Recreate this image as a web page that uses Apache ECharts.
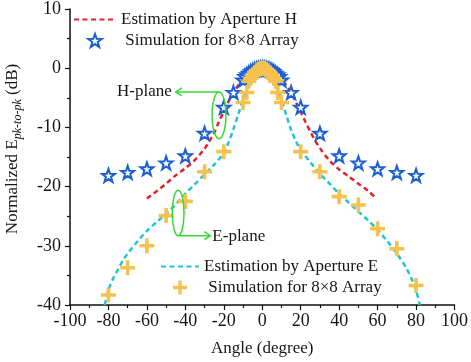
<!DOCTYPE html>
<html><head><meta charset="utf-8">
<script src="https://cdn.jsdelivr.net/npm/echarts@6/dist/echarts.min.js"></script>
<style>html,body{margin:0;padding:0;background:#fff}#c{width:471px;height:362px}</style>
</head><body><div id="c"></div>
<script>
// ---- data ----
const estHAngle = [-60,-55,-50,-45,-40,-35,-30,-27.5,-25,-22.5,-20,-17.5,-15,-12.5,-10,-7.5,-5,-2.5,0,2.5,5,7.5,10,12.5,15,17.5,20,22.5,25,27.5,30,35,40,45,50,55,59];
const estHValue = [-22.0,-20.8,-19.5,-18.1,-16.9,-15.5,-13.6,-12.3,-10.9,-9.0,-7.3,-5.6,-4.1,-2.9,-1.9,-1.1,-0.5,-0.12,0,-0.12,-0.5,-1.1,-1.9,-2.9,-4.2,-5.7,-7.4,-9.1,-10.7,-12.2,-13.5,-15.6,-17.1,-18.3,-19.5,-20.7,-21.9];

const simHAngle = [-80,-70,-60,-50,-40,-30,-20,-15,-10,-9,-8,-7,-6,-5,-4,-3,-2,-1,0,1,2,3,4,5,6,7,8,9,10,15,20,30,40,50,60,70,80];
const simHValue = [-18.1,-17.6,-17.0,-16.0,-14.8,-11.0,-6.6,-4.1,-2.0,-1.4,-1.1,-0.85,-0.6,-0.42,-0.27,-0.15,-0.07,-0.02,0,-0.02,-0.07,-0.15,-0.27,-0.42,-0.6,-0.85,-1.1,-1.4,-2.0,-4.1,-6.6,-11.0,-14.8,-16.0,-17.0,-17.6,-18.1];

const estEAngle = [-82,-81,-79.5,-77.5,-75,-72.5,-70,-65,-60,-55,-50,-45,-40,-35,-30,-25,-20,-17.5,-15,-12.5,-10,-8,-6,-4,-2,0,2,4,6,8,10,12.5,15,17.5,20,25,30,35,40,45,50,55,60,65,70,75,78,80,82];
const estEValue = [-40,-38.8,-37.0,-35.5,-34.0,-32.5,-31.3,-29.3,-27.5,-26.0,-24.6,-23.0,-21.2,-19.6,-17.9,-16.3,-14.3,-12.5,-10.3,-7.8,-5.3,-3.3,-1.9,-0.9,-0.25,0,-0.25,-0.9,-1.9,-3.3,-5.3,-7.9,-10.4,-12.3,-13.8,-15.9,-17.8,-19.5,-21.2,-22.7,-24.2,-25.7,-27.3,-29.2,-31.3,-33.8,-35.8,-37.5,-40];

const simEAngle = [-80,-70,-60,-50,-40,-30,-20,-10,-8,-7,-6,-5,-4,-3,-2,-1,0,1,2,3,4,5,6,7,8,10,20,30,40,50,60,70,80];
const simEValue = [-38.3,-33.7,-30.0,-24.9,-22.5,-17.5,-14.1,-5.8,-4.1,-2.2,-1.7,-1.2,-0.75,-0.45,-0.2,-0.05,0,-0.05,-0.2,-0.45,-0.75,-1.2,-1.7,-2.2,-4.1,-5.8,-14.1,-17.5,-21.7,-23.1,-27.1,-30.5,-36.7];

const seriesNames = ['Estimation by Aperture H', 'SimH', 'Estimation by Aperture E', 'SimE'];
const legendLabels = {'SimH': ' Simulation for 8\u00d78 Array', 'SimE': ' Simulation for 8\u00d78 Array'};
const annotationLabels = ['H-plane', 'E-plane'];
const yNameParts = ['Normalized E', 'pk-to-pk', ' (dB)'];
const xName = 'Angle (degree)';

// ---- styling ----
const FONT = '"Liberation Serif", "Times New Roman", serif';
const TXT = '#161616';
const zip = (a, b) => a.map((v, i) => [v, b[i]]);
const STAR = 'path://M0,-10L2.351,-3.236L9.511,-3.09L3.804,1.236L5.878,8.09L0,4L-5.878,8.09L-3.804,1.236L-9.511,-3.09L-2.351,-3.236Z';
const PLUS = 'path://M3.8,0H6.2V3.8H10V6.2H6.2V10H3.8V6.2H0V3.8H3.8Z';
const GREEN = '#35dc35';
const DASH = [5, 3.5];
const HIDE_SYMBOL = {color: 'rgba(0,0,0,0)', borderColor: 'rgba(0,0,0,0)', borderWidth: 0};

const chart = echarts.init(document.getElementById('c'), null, {renderer: 'canvas'});
const legendText = {fontFamily: FONT, fontSize: 17, color: TXT, lineHeight: 17};
chart.setOption({
  animation: false,
  backgroundColor: '#fff',
  grid: {left: 70, right: 14, top: 9, bottom: 57, containLabel: false},
  legend: [
    {left: 73, top: 11, padding: 0, orient: 'vertical', itemGap: 4, itemWidth: 42, itemHeight: 13,
     selectedMode: false, textStyle: legendText, formatter: n => legendLabels[n] || n,
     data: [{name: seriesNames[0], itemStyle: HIDE_SYMBOL}, seriesNames[1]]},
    {left: 160, top: 258, padding: 0, orient: 'vertical', itemGap: 4, itemWidth: 38, itemHeight: 14,
     selectedMode: false, textStyle: legendText, formatter: n => legendLabels[n] || n,
     data: [{name: seriesNames[2], itemStyle: HIDE_SYMBOL}, seriesNames[3]]}
  ],
  xAxis: {
    type: 'value', min: -100, max: 100, interval: 20,
    name: xName, nameLocation: 'middle', nameGap: 35,
    nameTextStyle: {fontFamily: FONT, fontSize: 17, color: TXT},
    axisLine: {show: true, onZero: false, lineStyle: {color: '#111', width: 1.5}},
    axisTick: {length: 5, lineStyle: {color: '#111', width: 1.2}},
    minorTick: {show: true, splitNumber: 2, length: 3, lineStyle: {color: '#111', width: 1.2}},
    splitLine: {show: false},
    axisLabel: {fontFamily: FONT, fontSize: 18, color: TXT, margin: 7}
  },
  yAxis: {
    type: 'value', min: -40, max: 10, interval: 10, position: 'left',
    axisLine: {show: true, onZero: false, lineStyle: {color: '#111', width: 1.5}},
    axisTick: {show: true, length: 5, lineStyle: {color: '#111', width: 1.2}},
    minorTick: {show: true, splitNumber: 2, length: 3, lineStyle: {color: '#111', width: 1.2}},
    splitLine: {show: false},
    axisLabel: {fontFamily: FONT, fontSize: 18, color: TXT, margin: 9}
  },
  series: [
    {name: seriesNames[0], type: 'line', data: zip(estHAngle, estHValue), symbol: 'none', smooth: 0.3,
     lineStyle: {color: '#e3212a', width: 2.5, type: DASH}, itemStyle: {color: '#e3212a'}, z: 2},
    {name: seriesNames[2], type: 'line', data: zip(estEAngle, estEValue), symbol: 'none', smooth: 0.3,
     lineStyle: {color: '#1fc6cf', width: 2.5, type: DASH}, itemStyle: {color: '#1fc6cf'}, z: 2},
    {name: seriesNames[1], type: 'scatter', data: zip(simHAngle, simHValue), symbol: STAR, symbolSize: 13,
     itemStyle: {color: '#ffffff', borderColor: '#1b5fd5', borderWidth: 2, opacity: 1}, z: 3},
    {name: seriesNames[3], type: 'scatter', data: zip(simEAngle, simEValue), symbol: PLUS, symbolSize: 15,
     itemStyle: {color: '#f5c24f', opacity: 1}, z: 4}
  ]
});

// ---- y-axis name with subscript (real text, measured) ----
const mctx = document.createElement('canvas').getContext('2d');
function tw(str, font) { mctx.font = font; return mctx.measureText(str).width; }
const fMain = '17px ' + FONT, fSub = 'italic 12px ' + FONT;
const w0 = tw(yNameParts[0], fMain), w1 = tw(yNameParts[1], fSub), w2 = tw(yNameParts[2], fMain);
const W = w0 + w1 + w2;
const yNameCenter = [13, 149];

// ---- annotations (placed via data coordinates) ----
const annH = {box: [[-26.1, -4.0], [-18.9, -11.9]], arrowTo: [-45, -4.0], text: annotationLabels[0]};
const annE = {box: [[-46.8, -20.6], [-40.7, -28.3]], arrowTo: [-27, -28.2], text: annotationLabels[1]};
function px(p) { return chart.convertToPixel({gridIndex: 0}, p); }
function ellipseOf(a) {
  const p1 = px(a.box[0]), p2 = px(a.box[1]);
  return {cx: (p1[0] + p2[0]) / 2, cy: (p1[1] + p2[1]) / 2, rx: Math.abs(p2[0] - p1[0]) / 2, ry: Math.abs(p2[1] - p1[1]) / 2};
}
const eH = ellipseOf(annH), eE = ellipseOf(annE);
const tH = px(annH.arrowTo), tE = px(annE.arrowTo);
const stroke = {stroke: GREEN, lineWidth: 1.5, fill: 'none'};
const hy = eH.cy - eH.ry, ey = eE.cy + eE.ry;
chart.setOption({
  graphic: [
    {type: 'group', x: yNameCenter[0], y: yNameCenter[1], rotation: Math.PI / 2, children: [
      {type: 'text', x: -W / 2, y: 0, style: {text: yNameParts[0], font: fMain, fill: TXT, align: 'left', verticalAlign: 'middle'}},
      {type: 'text', x: -W / 2 + w0, y: 5, style: {text: yNameParts[1], font: fSub, fill: TXT, align: 'left', verticalAlign: 'middle'}},
      {type: 'text', x: -W / 2 + w0 + w1, y: 0, style: {text: yNameParts[2], font: fMain, fill: TXT, align: 'left', verticalAlign: 'middle'}}
    ]},
    {type: 'ellipse', shape: eH, style: stroke, z: 10},
    {type: 'polyline', shape: {points: [[eH.cx, hy], [tH[0], hy]]}, style: stroke, z: 10},
    {type: 'polyline', shape: {points: [[tH[0] + 6, hy - 4], [tH[0], hy], [tH[0] + 6, hy + 4]]}, style: stroke, z: 10},
    {type: 'text', x: tH[0] - 4, y: hy, style: {text: annH.text, font: '17px ' + FONT, fill: TXT, align: 'right', verticalAlign: 'middle'}, z: 10},
    {type: 'ellipse', shape: eE, style: stroke, z: 10},
    {type: 'polyline', shape: {points: [[eE.cx, ey], [tE[0], ey]]}, style: stroke, z: 10},
    {type: 'polyline', shape: {points: [[tE[0] - 6, ey - 4], [tE[0], ey], [tE[0] - 6, ey + 4]]}, style: stroke, z: 10},
    {type: 'text', x: tE[0] + 2, y: ey + 1, style: {text: annE.text, font: '17px ' + FONT, fill: TXT, align: 'left', verticalAlign: 'middle'}, z: 10}
  ]
});
</script>
</body></html>
